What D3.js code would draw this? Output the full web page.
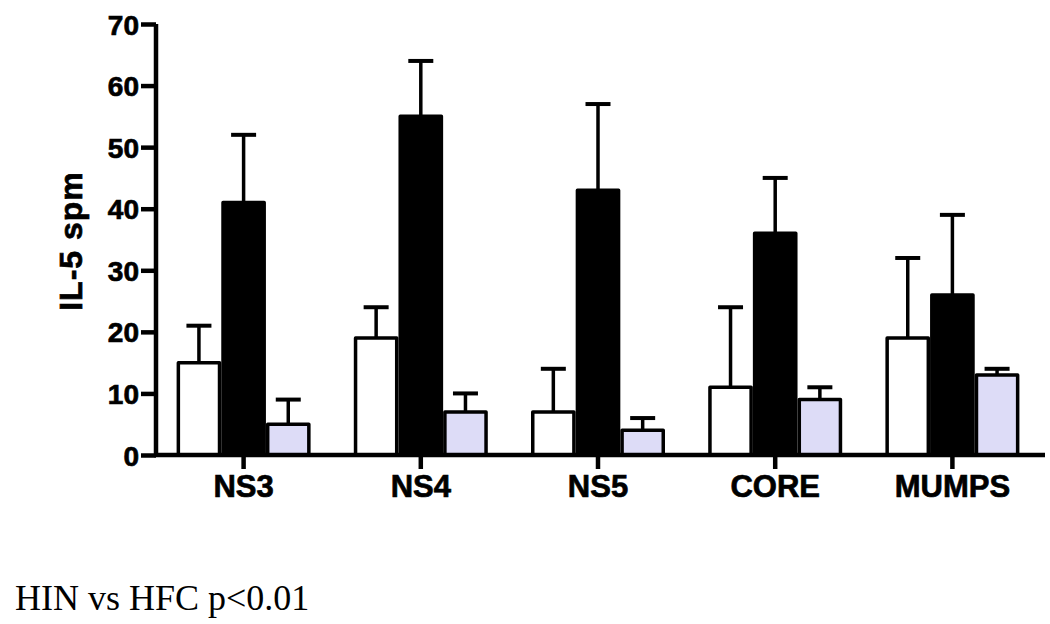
<!DOCTYPE html>
<html>
<head>
<meta charset="utf-8">
<script src="https://cdn.jsdelivr.net/npm/d3@7"></script>
<style>
  html, body { margin: 0; padding: 0; background: #ffffff; }
  svg { display: block; }
</style>
</head>
<body>
<svg id="chart" width="1050" height="624"></svg>
<script>
// ---- data ----
const categories = ["NS3", "NS4", "NS5", "CORE", "MUMPS"];
const seriesNames = ["HFC", "HIN", "other"];
const whiteMeans = [15, 19, 7, 11, 19];
const whiteErrTop = [21, 24, 14, 24, 32];
const blackMeans = [41, 55, 43, 36, 26];
const blackErrTop = [52, 64, 57, 45, 39];
const blueMeans = [5, 7, 4, 9, 13];
const blueErrTop = [9, 10, 6, 11, 14];
const yTicks = [0, 10, 20, 30, 40, 50, 60, 70];
const yLabel = "IL-5 spm";
const footnote = "HIN vs HFC p<0.01";

const seriesFill = ["#ffffff", "#000000", "#dddcf7"];
const seriesData = [
  { means: whiteMeans, err: whiteErrTop },
  { means: blackMeans, err: blackErrTop },
  { means: blueMeans, err: blueErrTop }
];

const svg = d3.select("#chart");
const axisX0 = 156, axisX1 = 1045;

const y = d3.scaleLinear().domain([0, 70]).range([455, 24]);
const x = d3.scaleBand().domain(categories).range([155, 1041]).paddingInner(0).paddingOuter(0);
const groupW = 134;
const xs = d3.scaleBand().domain(d3.range(3)).range([-groupW / 2, groupW / 2]).padding(0);

// error bars
seriesData.forEach((s, si) => {
  const g = svg.append("g");
  categories.forEach((c, ci) => {
    const cx = x(c) + x.bandwidth() / 2 + xs(si) + xs.bandwidth() / 2;
    g.append("line")
      .attr("x1", cx).attr("x2", cx)
      .attr("y1", y(s.means[ci])).attr("y2", y(s.err[ci]))
      .attr("stroke", "#000").attr("stroke-width", 3.5);
    g.append("line")
      .attr("x1", cx - 12.5).attr("x2", cx + 12.5)
      .attr("y1", y(s.err[ci])).attr("y2", y(s.err[ci]))
      .attr("stroke", "#000").attr("stroke-width", 4);
  });
});

// bars
const sw = 3.5;
seriesData.forEach((s, si) => {
  svg.append("g").selectAll("rect")
    .data(categories)
    .join("rect")
    .attr("x", c => x(c) + x.bandwidth() / 2 + xs(si) + sw / 2)
    .attr("width", xs.bandwidth() - sw)
    .attr("y", (c, i) => y(s.means[i]))
    .attr("height", (c, i) => y(0) - y(s.means[i]))
    .attr("fill", seriesFill[si])
    .attr("stroke", "#000")
    .attr("stroke-width", sw)
    .attr("stroke-linejoin", "round");
});

// y axis
const yAxis = svg.append("g")
  .attr("transform", `translate(${axisX0},0)`)
  .call(d3.axisLeft(y).tickValues(yTicks).tickSize(15).tickSizeOuter(0).tickPadding(2));
yAxis.select(".domain").attr("stroke-width", 4.5).attr("d", `M0,${y(70)}V${y(0) + 2}`);
yAxis.selectAll(".tick line").attr("stroke-width", 4.5);
yAxis.selectAll(".tick text")
  .attr("font-family", "'Liberation Sans', Arial, sans-serif")
  .attr("font-weight", "bold")
  .attr("font-size", 28)
  .attr("fill", "#000")
  .attr("stroke", "#000")
  .attr("stroke-width", 0.7)
  .attr("dy", "0.36em");

// x axis
const xAxis = svg.append("g")
  .attr("transform", `translate(0,${y(0)})`)
  .call(d3.axisBottom(x).tickSize(14).tickSizeOuter(0).tickPadding(6));
xAxis.select(".domain").attr("stroke-width", 4.5).attr("d", `M${axisX0 - 2},0H${axisX1}`);
xAxis.selectAll(".tick line").attr("stroke-width", 4.5);
xAxis.selectAll(".tick text")
  .attr("font-family", "'Liberation Sans', Arial, sans-serif")
  .attr("font-weight", "bold")
  .attr("font-size", 31)
  .attr("fill", "#000")
  .attr("stroke", "#000")
  .attr("stroke-width", 0.7);

// y label
svg.append("text")
  .attr("transform", "translate(82,241) rotate(-90)")
  .attr("text-anchor", "middle")
  .attr("font-family", "'Liberation Sans', Arial, sans-serif")
  .attr("font-weight", "bold")
  .attr("font-size", 32)
  .attr("letter-spacing", 1)
  .attr("fill", "#000")
  .attr("stroke", "#000")
  .attr("stroke-width", 0.7)
  .text(yLabel);

// footnote
svg.append("text")
  .attr("x", 15).attr("y", 610)
  .attr("font-family", "'Liberation Serif', 'Times New Roman', serif")
  .attr("font-size", 36)
  .attr("fill", "#000")
  .text(footnote);
</script>
</body>
</html>
